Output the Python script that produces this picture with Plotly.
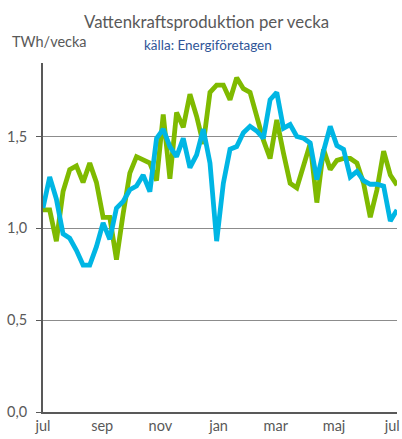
import pandas as pd
import plotly.graph_objects as go

# weekly hydro production, TWh/week
weeks = pd.date_range("2019-07-01", periods=54, freq="7D")

green_series = [
    1.10, 1.10, 0.93, 1.20, 1.32, 1.34, 1.25, 1.355, 1.25, 1.06,
    1.06, 0.83, 1.08, 1.30, 1.39, 1.37, 1.355, 1.26, 1.62, 1.27,
    1.63, 1.55, 1.73, 1.61, 1.46, 1.74, 1.78, 1.78, 1.70, 1.82,
    1.76, 1.74, 1.61, 1.48, 1.38, 1.59, 1.41, 1.245, 1.22, 1.34,
    1.46, 1.14, 1.43, 1.32, 1.37, 1.38, 1.38, 1.355, 1.245, 1.06,
    1.21, 1.42, 1.29, 1.235,
]

blue_series = [
    1.11, 1.28, 1.16, 0.97, 0.946, 0.88, 0.80, 0.80, 0.90, 1.03,
    0.94, 1.11, 1.146, 1.21, 1.23, 1.29, 1.20, 1.49, 1.54, 1.445,
    1.39, 1.49, 1.33, 1.40, 1.54, 1.355, 0.93, 1.245, 1.43, 1.445,
    1.52, 1.555, 1.53, 1.49, 1.70, 1.74, 1.545, 1.565, 1.50, 1.49,
    1.465, 1.265, 1.42, 1.555, 1.45, 1.43, 1.28, 1.31, 1.26, 1.24,
    1.24, 1.23, 1.04, 1.10,
]

tick_dates = ["2019-07-01", "2019-09-01", "2019-11-01", "2020-01-01",
              "2020-03-01", "2020-05-01", "2020-07-01"]
tick_labels = ["jul", "sep", "nov", "jan", "mar", "maj", "jul"]

y_tick_vals = [0.0, 0.5, 1.0, 1.5]
y_tick_labels = ["0,0", "0,5", "1,0", "1,5"]

FONT = "Lato"
GRAY = "#595959"

fig = go.Figure()
fig.add_trace(go.Scatter(x=weeks, y=green_series, mode="lines",
                         line=dict(color="#7FBA00", width=4.8), showlegend=False))
fig.add_trace(go.Scatter(x=weeks, y=blue_series, mode="lines",
                         line=dict(color="#00B6E4", width=4.8), showlegend=False))

fig.update_layout(
    width=402, height=439,
    margin=dict(l=43, r=5, t=63, b=27, autoexpand=False),
    paper_bgcolor="white", plot_bgcolor="white",
    font=dict(family=FONT, color=GRAY, size=14),
    hovermode=False,
    xaxis=dict(
        range=[weeks[0], weeks[-1]],
        tickvals=tick_dates, ticktext=tick_labels,
        showgrid=False, zeroline=False,
        showline=True, linecolor=GRAY, linewidth=2,
        ticks="", tickfont=dict(size=14.5, color=GRAY),
        automargin=False,
    ),
    yaxis=dict(
        range=[0, 1.9],
        tickvals=y_tick_vals, ticktext=y_tick_labels,
        showgrid=True, gridcolor="#8C8C8C", gridwidth=1,
        zeroline=False,
        showline=True, linecolor=GRAY, linewidth=2,
        ticks="outside", ticklen=5, tickcolor=GRAY, tickwidth=1,
        ticklabelstandoff=6,
        tickfont=dict(size=14.5, color=GRAY),
        automargin=False,
    ),
    annotations=[
        dict(text="Vattenkraftsproduktion per vecka", xref="paper", yref="paper",
             x=0.462, y=1.118, xanchor="center", yanchor="middle",
             showarrow=False, font=dict(size=16.8, color=GRAY, family=FONT)),
        dict(text="TWh/vecka", xref="paper", yref="paper",
             x=-0.093, y=1.061, xanchor="left", yanchor="middle",
             showarrow=False, font=dict(size=14.5, color=GRAY, family=FONT)),
        dict(text="källa: Energiföretagen", xref="paper", yref="paper",
             x=0.465, y=1.052, xanchor="center", yanchor="middle",
             showarrow=False, font=dict(size=13.5, color="#2F5597", family=FONT)),
    ],
)

fig.write_html(
    "out.html",
    config={"displayModeBar": False},
    post_script="document.body.style.margin='0';document.body.style.overflow='hidden';",
)
